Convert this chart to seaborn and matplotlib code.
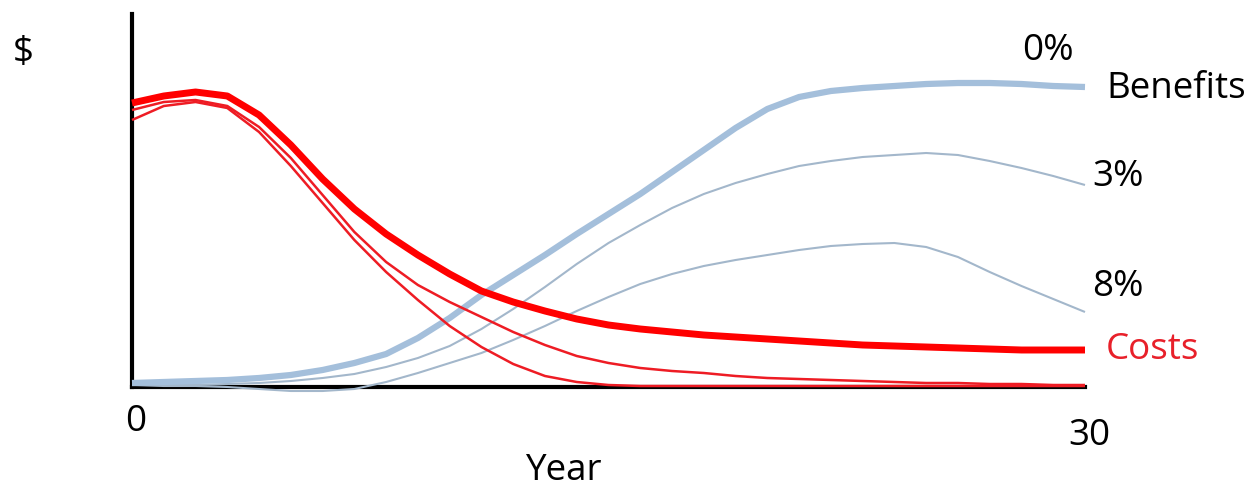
import numpy as np
import pandas as pd
import seaborn as sns
import matplotlib.pyplot as plt

# years along the x axis
years = list(range(0, 31))

# costs (red), height above the axis in arbitrary $ units
costs_0 = [284, 291, 295, 291, 272, 242, 208, 178, 153, 132, 113, 96, 85, 76, 68, 62,
           58, 55, 52, 50, 48, 46, 44, 42, 41, 40, 39, 38, 37, 37, 37]
costs_3 = [277, 285, 287, 281, 260, 229, 192, 155, 125, 102, 85, 70, 55, 42, 31, 24,
           19, 16, 14, 11, 9, 8, 7, 6, 5, 4, 4, 3, 3, 2, 2]
costs_8 = [267, 281, 285, 279, 255, 221, 184, 147, 115, 87, 61, 40, 23, 11, 5, 2,
           1, 1, 1, 1, 1, 1, 1, 1, 1, 1, 1, 1, 1, 1, 1]

# benefits (blue) at 0%, 3%, 8% discount
benefits_0 = [4, 5, 6, 7, 9, 12, 17, 24, 33, 49, 69, 92, 112, 132, 153, 173,
              193, 215, 237, 259, 278, 290, 296, 299, 301, 303, 304, 304, 303, 301, 300]
benefits_3 = [2, 2, 2, 3, 4, 6, 9, 13, 20, 29, 41, 58, 78, 100, 123, 144,
              162, 179, 193, 204, 213, 221, 226, 230, 232, 234, 232, 226, 219, 211, 202]
benefits_8 = [2, 1, 1, 0, -2, -4, -4, -2, 5, 14, 24, 34, 47, 61, 76, 90,
              103, 113, 121, 127, 132, 137, 141, 143, 144, 140, 130, 115, 101, 88, 75]

sns.set_style("white")
plt.rcParams['font.family'] = ['Open Sans', 'DejaVu Sans']

W, H = 1256, 487
fig = plt.figure(figsize=(W / 100, H / 100), dpi=100)
ax = fig.add_axes([132 / W, (H - 400) / H, (1085 - 132) / W, 386 / H])

series = [
    (benefits_8, '#a3b7cb', 1.5),
    (benefits_3, '#a3b7cb', 1.5),
    (benefits_0, '#a4bfdb', 4.5),
    (costs_8, '#ee1c24', 1.8),
    (costs_3, '#ee1c24', 1.8),
    (costs_0, '#ff0000', 5.0),
]
for vals, col, lw in series:
    df = pd.DataFrame({'Year': years, 'Value': vals})
    sns.lineplot(data=df, x='Year', y='Value', color=col, linewidth=lw, ax=ax,
                 clip_on=False, solid_capstyle='butt', solid_joinstyle='round')

ax.set_xlim(0, 30)
ax.set_ylim(-13, 373)
ax.set_xticks([])
ax.set_yticks([])
ax.set_xlabel('')
ax.set_ylabel('')
for s in ['top', 'right']:
    ax.spines[s].set_visible(False)
ax.spines['left'].set_bounds(0, 373)
ax.spines['left'].set_linewidth(3)
ax.spines['left'].set_color('black')
ax.spines['bottom'].set_position(('data', 0))
ax.spines['bottom'].set_linewidth(3)
ax.spines['bottom'].set_color('black')
ax.spines['left'].set_zorder(0.5)
ax.spines['bottom'].set_zorder(0.5)


def px_text(x, y, s, ha='left', color='black', size=26.5):
    fig.text(x / W, 1 - y / H, s, ha=ha, va='baseline', color=color, fontsize=size)


px_text(23, 62, '$', ha='center')
px_text(136, 431, '0', ha='center')
px_text(1089, 445, '30', ha='center')
px_text(563, 480, 'Year', ha='center')
px_text(1048, 60, '0%', ha='center')
px_text(1106, 98, 'Benefits')
px_text(1092, 186, '3%')
px_text(1092, 296, '8%')
px_text(1106, 359, 'Costs', color='#e8202a')

fig.savefig('out.png', dpi=100)
